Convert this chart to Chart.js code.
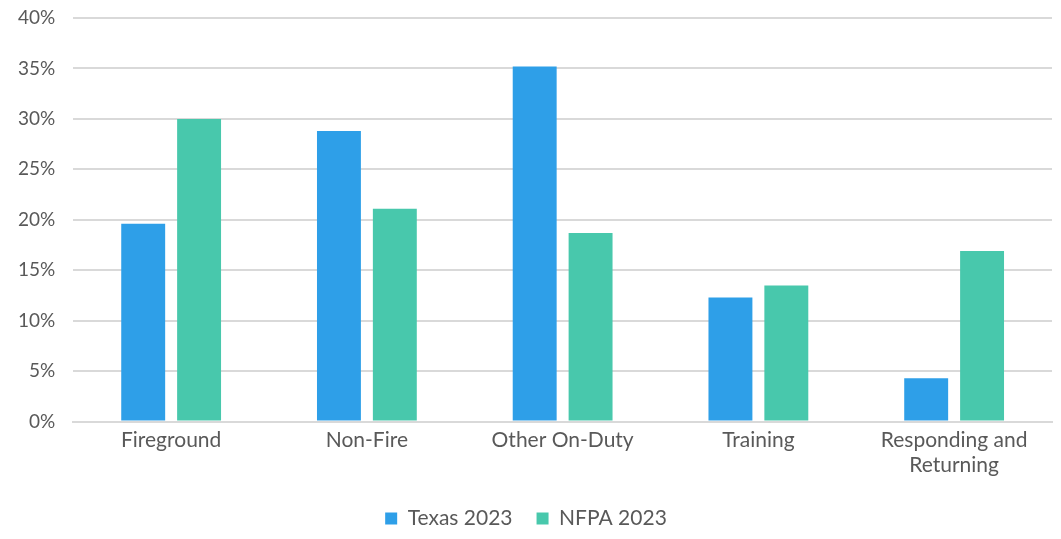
<!DOCTYPE html>
<html>
<head>
<meta charset="utf-8">
<script src="https://cdn.jsdelivr.net/npm/chart.js@4"></script>
<style>
  html, body { margin: 0; padding: 0; background: #fff; }
  #wrap { width: 1061px; height: 539px; }
</style>
</head>
<body>
<div id="wrap"><canvas id="chart"></canvas></div>
<script>
const categories = ['Fireground', 'Non-Fire', 'Other On-Duty', 'Training', ['Responding and', 'Returning']];
const texas2023 = [19.6, 28.8, 35.2, 12.3, 4.3];
const nfpa2023 = [30.0, 21.1, 18.7, 13.5, 16.9];

const TEXT = '#595959';
const GRID = '#d9d9d9';

Chart.defaults.font.family = 'Lato, "Open Sans", sans-serif';
Chart.defaults.font.size = 21;
Chart.defaults.color = TEXT;

new Chart(document.getElementById('chart'), {
  type: 'bar',
  data: {
    labels: categories,
    datasets: [
      { label: 'Texas 2023', data: texas2023, backgroundColor: '#2e9fe8' },
      { label: 'NFPA 2023', data: nfpa2023, backgroundColor: '#48c8ac' }
    ]
  },
  options: {
    responsive: true,
    maintainAspectRatio: false,
    animation: false,
    categoryPercentage: 0.571,
    barPercentage: 0.786,
    layout: { autoPadding: false, padding: { left: 0, right: 9, top: 0, bottom: 0 } },
    plugins: {
      legend: {
        position: 'bottom',
        labels: { boxWidth: 12, boxHeight: 12, padding: 24, font: { size: 21 } }
      },
      tooltip: { enabled: false }
    },
    scales: {
      x: {
        grid: { display: false, drawTicks: false },
        border: { color: GRID, width: 2 },
        ticks: { padding: 6, maxRotation: 0, font: { size: 21, lineHeight: 1.2 } }
      },
      y: {
        min: 0,
        max: 40,
        // keep the top gridline where the original sits
        afterFit: (scale) => { scale.paddingTop = 18; },
        ticks: { stepSize: 5, padding: 18, callback: (v) => v + '%', font: { size: 19, lineHeight: 1 } },
        grid: { color: GRID, lineWidth: 2, drawTicks: false },
        border: { display: false }
      }
    }
  }
});
</script>
</body>
</html>
